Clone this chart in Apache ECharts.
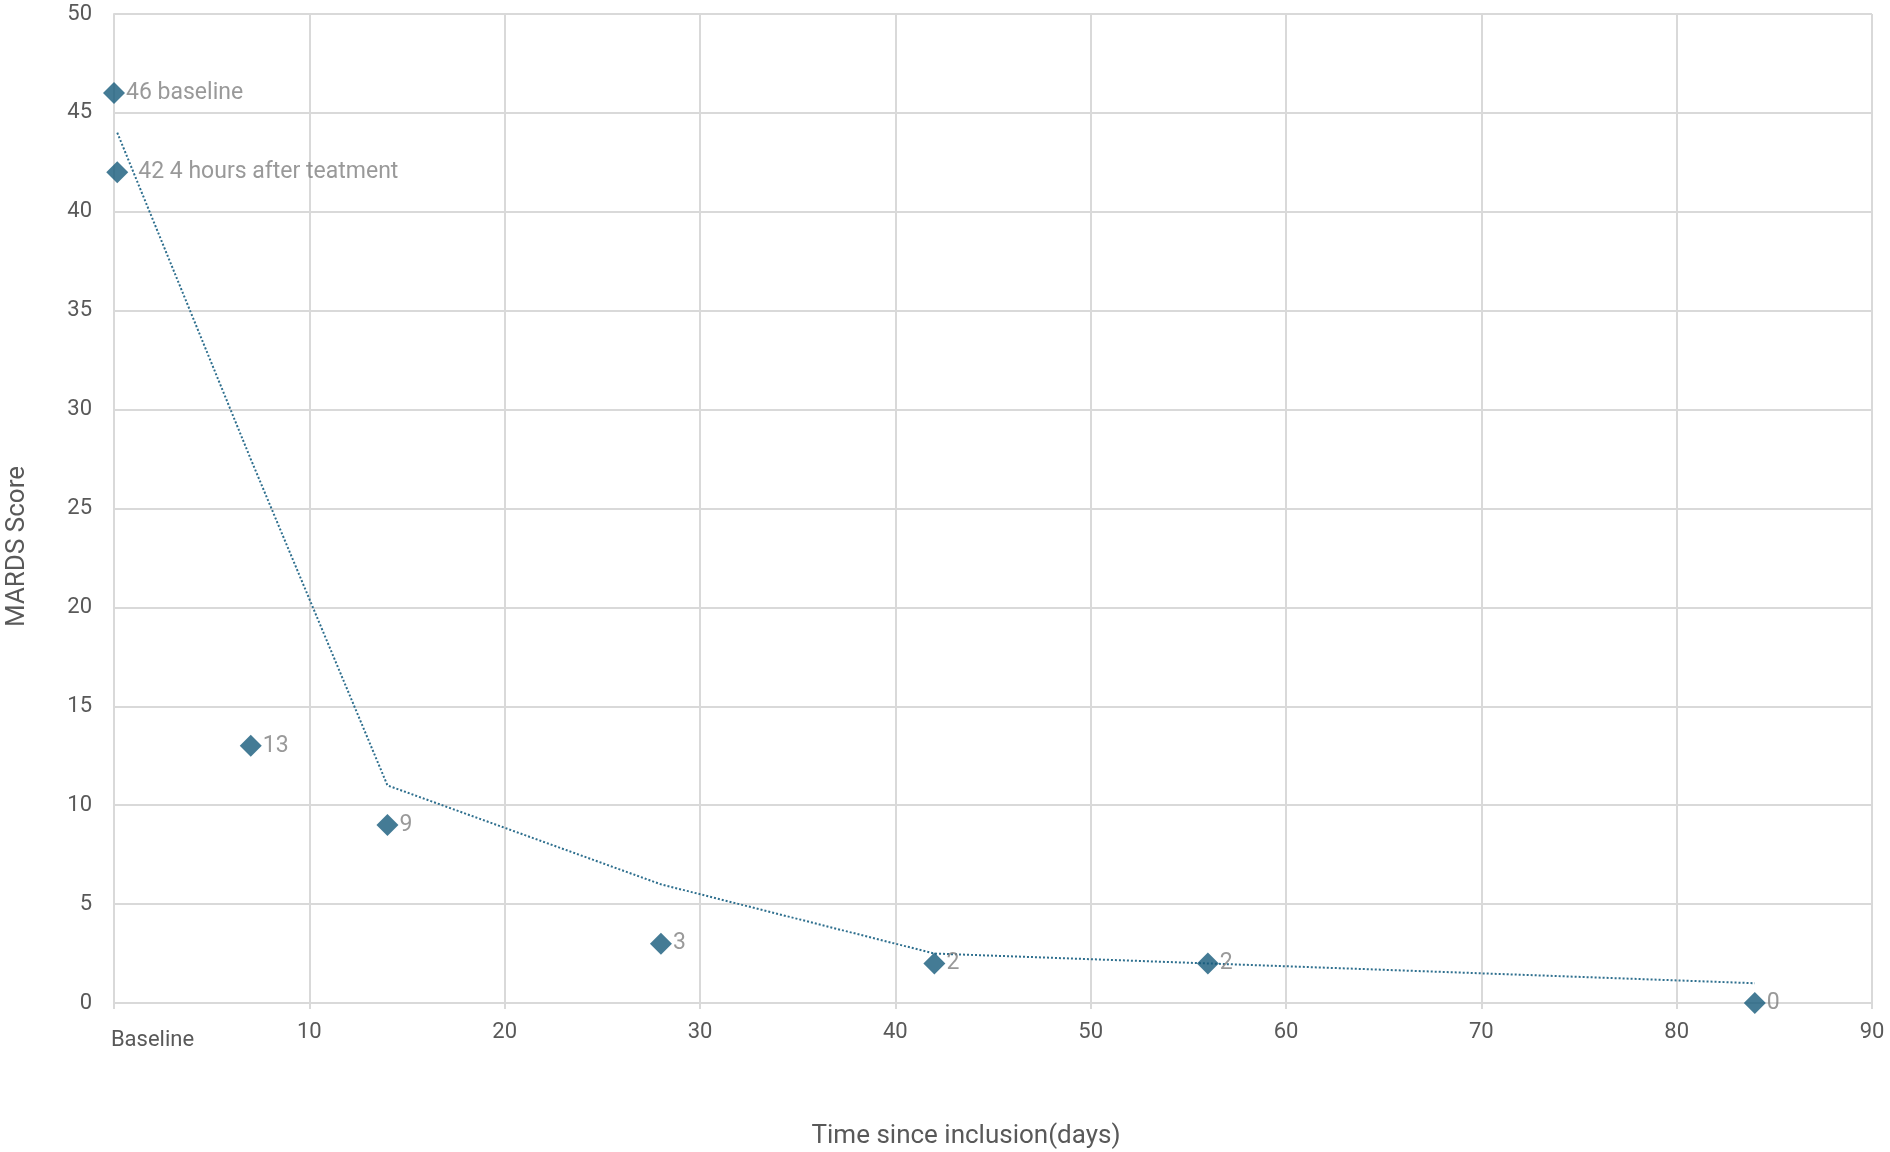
<!DOCTYPE html>
<html>
<head>
<meta charset="utf-8">
<script src="https://cdn.jsdelivr.net/npm/echarts@6/dist/echarts.min.js"></script>
<style>
  html, body { margin: 0; padding: 0; background: #fff; }
  #main { width: 1890px; height: 1152px; }
</style>
</head>
<body>
<div id="main"></div>
<script>
// measured points: days since inclusion, MARDS score
var days   = [0, 0.167, 7, 14, 28, 42, 56, 84];
var scores = [46, 42, 13, 9, 3, 2, 2, 0];
var notes  = ['baseline', '4 hours after teatment', '', '', '', '', '', ''];

// dotted trend line (moving average)
var trendDays   = [0.167, 7, 14, 28, 42, 56, 84];
var trendScores = [44, 27.5, 11, 6, 2.5, 2, 1];

var xTicks = { 0: 'Baseline' };

var pts = [];
for (var i = 0; i < days.length; i++) {
  pts.push({ value: [days[i], scores[i]], name: notes[i] });
}
var trend = [];
for (var j = 0; j < trendDays.length; j++) {
  trend.push([trendDays[j], trendScores[j]]);
}
// the second point's label sits a bit further out
pts[1].label = { distance: 10 };

var myChart = echarts.init(document.getElementById('main'));
myChart.setOption({
  animation: false,
  backgroundColor: '#fff',
  textStyle: { fontFamily: 'Roboto, "Noto Sans", sans-serif' },
  grid: { left: 114, right: 18, top: 14, bottom: 149, outerBoundsMode: 'none', containLabel: false },
  xAxis: {
    type: 'value',
    min: 0, max: 90, interval: 10,
    name: 'Time since inclusion(days)',
    nameLocation: 'middle',
    nameGap: 120,
    nameTextStyle: { fontSize: 26, color: '#595959', padding: [0, 54, 0, 0] },
    axisLine: { show: true, lineStyle: { color: '#d9d9d9', width: 2 } },
    axisTick: { show: true, length: 6, lineStyle: { color: '#d9d9d9', width: 2 } },
    axisLabel: {
      fontSize: 22, color: '#595959', margin: 18,
      formatter: function (v) {
        if (xTicks[v] !== undefined) return '{b|' + xTicks[v] + '}';
        return '{n|' + v + '}';
      },
      rich: {
        b: { fontSize: 22, color: '#595959', padding: [8, 0, 0, 77] },
        n: { fontSize: 22, color: '#595959' }
      }
    },
    splitLine: { show: true, lineStyle: { color: '#d9d9d9', width: 2 } }
  },
  yAxis: {
    type: 'value',
    min: 0, max: 50, interval: 5,
    name: 'MARDS Score',
    nameLocation: 'middle',
    nameGap: 84,
    nameTextStyle: { fontSize: 26, color: '#595959', padding: [0, 76, 0, 0] },
    axisLine: { show: true, lineStyle: { color: '#d9d9d9', width: 2 } },
    axisTick: { show: false },
    axisLabel: { fontSize: 22, color: '#595959', margin: 22 },
    splitLine: { show: true, lineStyle: { color: '#d9d9d9', width: 2 } }
  },
  series: [
    {
      type: 'line',
      data: trend,
      symbol: 'none',
      lineStyle: { color: '#2e6f8e', width: 2, type: 'dotted' },
      z: 2
    },
    {
      type: 'scatter',
      data: pts,
      symbol: 'diamond',
      symbolSize: 22,
      itemStyle: { color: '#155a7a' },
      label: {
        show: true,
        position: 'right',
        distance: 1,
        fontSize: 23,
        color: '#7f7f7f',
        formatter: function (p) {
          return p.name ? p.value[1] + ' ' + p.name : '' + p.value[1];
        }
      },
      z: 3
    }
  ]
});
</script>
</body>
</html>
